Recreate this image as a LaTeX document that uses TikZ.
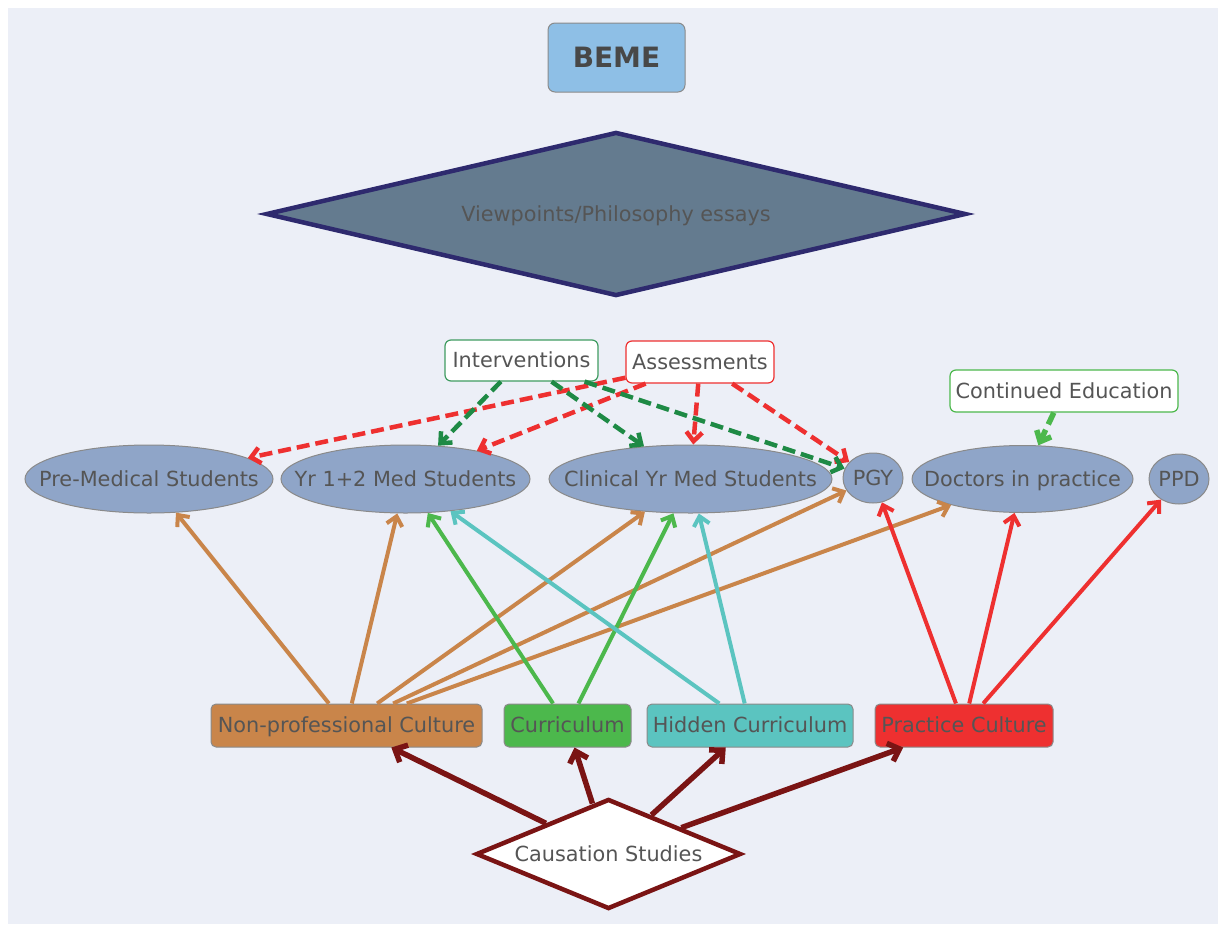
\documentclass[tikz,border=0pt]{standalone}
\usepackage{fontspec}
\setmainfont{DejaVu Sans}
\usetikzlibrary{shapes.geometric,arrows.meta}
\definecolor{bg}{HTML}{ECEFF7}
\definecolor{txt}{HTML}{555555}
\definecolor{bordergray}{HTML}{8A8A8A}
\definecolor{bemefill}{HTML}{8EBFE6}
\definecolor{bemetext}{HTML}{484848}
\definecolor{vpfill}{HTML}{647B8F}
\definecolor{vpline}{HTML}{2E2A6E}
\definecolor{ellfill}{HTML}{8FA5C8}
\definecolor{orangec}{HTML}{C9854A}
\definecolor{greenc}{HTML}{4CB84C}
\definecolor{tealc}{HTML}{5BC4C0}
\definecolor{redc}{HTML}{EE3030}
\definecolor{darkredc}{HTML}{7A1414}
\definecolor{dkgreen}{HTML}{1E8A45}
\newcommand{\ctext}[1]{\makebox[0pt]{\raisebox{-.36em}[0pt][0pt]{#1}}}
\begin{document}
\begin{tikzpicture}[x=1pt,y=-1pt,
  font=\fontsize{20.8}{24}\selectfont, text=txt,
  box/.style={rectangle, rounded corners=5pt, draw=bordergray, line width=1pt, inner sep=0pt},
  tagbox/.style={rectangle, rounded corners=6pt, fill=white, line width=1.2pt, inner sep=0pt},
  ell/.style={ellipse, fill=ellfill, draw=bordergray, line width=1pt, inner sep=0pt},
  conn/.style={line width=4pt, -{Straight Barb[length=9pt,width=16pt]}},
  cause/.style={line width=5.5pt, draw=darkredc, -{Straight Barb[length=10pt,width=19pt]}},
  dconn/.style={line width=4.5pt, dash pattern=on 13pt off 6pt, -{Straight Barb[length=9pt,width=16pt]}}
]
\useasboundingbox (0,0) rectangle (1220,926);
\fill[bg] (8,8) rectangle (1218,924);

% top
\node[box, fill=bemefill, minimum width=137pt, minimum height=69pt, rounded corners=7pt,
  font=\fontsize{28}{32}\selectfont\bfseries, text=bemetext] (beme) at (616.5,57.5) {\ctext{BEME}};
\node[diamond, fill=vpfill, draw=vpline, line width=4.5pt, inner sep=0pt,
  minimum width=700pt, minimum height=164pt] (vp) at (616,214) {\ctext{Viewpoints/Philosophy essays}};

% tags
\node[tagbox, draw=dkgreen!85!white, minimum width=153pt, minimum height=41pt] (int) at (521.5,360.5) {\ctext{Interventions}};
\node[tagbox, draw=redc, minimum width=148pt, minimum height=42pt] (ass) at (700,362) {\ctext{Assessments}};
\node[tagbox, draw=greenc, minimum width=228pt, minimum height=42pt] (ce) at (1064,391) {\ctext{Continued Education}};

% ellipses
\node[ell, minimum width=248pt, minimum height=68pt] (pre) at (149,479) {\ctext{Pre-Medical Students}};
\node[ell, minimum width=249pt, minimum height=68pt] (yr) at (405.5,479) {\ctext{Yr 1+2 Med Students}};
\node[ell, minimum width=283pt, minimum height=68pt] (clin) at (690.5,479) {\ctext{Clinical Yr Med Students}};
\node[ell, minimum width=60pt, minimum height=50pt] (pgy) at (873,478) {\ctext{PGY}};
\node[ell, minimum width=221pt, minimum height=67pt] (doc) at (1022.5,479) {\ctext{Doctors in practice}};
\node[ell, minimum width=60pt, minimum height=50pt] (ppd) at (1179,479) {\ctext{PPD}};

% cultures
\node[box, fill=orangec, minimum width=271pt, minimum height=43pt] (npc) at (346.5,725.5) {\ctext{Non-professional Culture}};
\node[box, fill=greenc, minimum width=127pt, minimum height=43pt] (cur) at (567.5,725.5) {\ctext{Curriculum}};
\node[box, fill=tealc, minimum width=206pt, minimum height=43pt] (hid) at (750,725.5) {\ctext{Hidden Curriculum}};
\node[box, fill=redc, minimum width=178pt, minimum height=43pt] (prc) at (964,725.5) {\ctext{Practice Culture}};

% causation
\node[diamond, fill=white, draw=darkredc, line width=4.5pt, inner sep=0pt,
  minimum width=265pt, minimum height=110pt] (cs) at (608.5,854) {\ctext{Causation Studies}};

% culture edges
\draw[conn, orangec] (npc) -- (pre);
\draw[conn, orangec] (npc) -- (yr);
\draw[conn, orangec] (npc) -- (clin);
\draw[conn, orangec] (npc) -- (pgy);
\draw[conn, orangec] (npc) -- (doc);
\draw[conn, greenc] (cur) -- (yr);
\draw[conn, greenc] (cur) -- (clin);
\draw[conn, tealc] (hid) -- (yr);
\draw[conn, tealc] (hid) -- (clin);
\draw[conn, redc] (prc) -- (pgy);
\draw[conn, redc] (prc) -- (doc);
\draw[conn, redc] (prc) -- (ppd);

% causation edges
\draw[cause] (cs) -- (npc);
\draw[cause] (cs) -- (cur);
\draw[cause] (cs) -- (hid);
\draw[cause] (cs) -- (prc);

% dashed edges
\draw[dconn, redc] (ass) -- (pre);
\draw[dconn, redc] (ass) -- (yr);
\draw[dconn, redc] (ass) -- (clin);
\draw[dconn, redc] (ass) -- (pgy);
\draw[dconn, dkgreen] (int) -- (yr);
\draw[dconn, dkgreen] (int) -- (clin);
\draw[dconn, dkgreen] (int) -- (pgy);
\draw[dconn, greenc, line width=5.5pt] (ce) -- (doc);
\end{tikzpicture}
\end{document}
